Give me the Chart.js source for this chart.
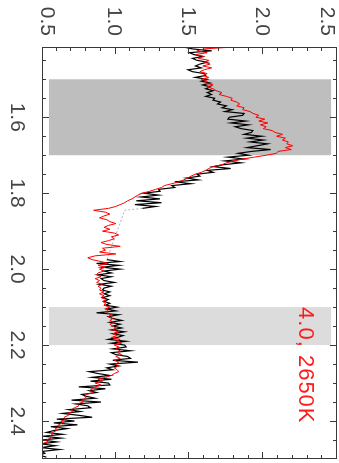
<!DOCTYPE html>
<html>
<head>
<meta charset="utf-8">
<script src="https://cdn.jsdelivr.net/npm/chart.js@4/dist/chart.umd.min.js"></script>
<style>
  html, body { margin: 0; padding: 0; background: #fff; overflow: hidden; }
  /* plot is laid out landscape and turned a quarter clockwise */
  #wrap { position: absolute; left: 0; top: 0; width: 463px; height: 339px;
          transform-origin: 0 0; transform: translate(339px, 0) rotate(90deg); }
</style>
</head>
<body>
<div id="wrap"><canvas id="spectrum" width="463" height="339"></canvas></div>
<script>
// wavelength grid (micron)
const wavelength = [
  1.415,1.420,1.425,1.430,1.435,1.440,1.445,1.450,1.455,1.460,
  1.465,1.470,1.475,1.480,1.485,1.490,1.495,1.500,1.505,1.510,
  1.515,1.520,1.525,1.530,1.535,1.540,1.545,1.550,1.555,1.560,
  1.565,1.570,1.575,1.580,1.585,1.590,1.595,1.600,1.605,1.610,
  1.615,1.620,1.625,1.630,1.635,1.640,1.645,1.650,1.655,1.660,
  1.665,1.670,1.675,1.680,1.685,1.690,1.695,1.700,1.705,1.710,
  1.715,1.720,1.725,1.730,1.735,1.740,1.745,1.750,1.755,1.760,
  1.765,1.770,1.775,1.780,1.785,1.790,1.795,1.800,1.805,1.810,
  1.815,1.820,1.825,1.830,1.835,1.840,1.845,1.850,1.855,1.860,
  1.865,1.870,1.875,1.880,1.885,1.890,1.895,1.900,1.905,1.910,
  1.915,1.920,1.925,1.930,1.935,1.940,1.945,1.950,1.955,1.960,
  1.965,1.970,1.975,1.980,1.985,1.990,1.995,2.000,2.005,2.010,
  2.015,2.020,2.025,2.030,2.035,2.040,2.045,2.050,2.055,2.060,
  2.065,2.070,2.075,2.080,2.085,2.090,2.095,2.100,2.105,2.110,
  2.115,2.120,2.125,2.130,2.135,2.140,2.145,2.150,2.155,2.160,
  2.165,2.170,2.175,2.180,2.185,2.190,2.195,2.200,2.205,2.210,
  2.215,2.220,2.225,2.230,2.235,2.240,2.245,2.250,2.255,2.260,
  2.265,2.270,2.275,2.280,2.285,2.290,2.295,2.300,2.305,2.310,
  2.315,2.320,2.325,2.330,2.335,2.340,2.345,2.350,2.355,2.360,
  2.365,2.370,2.375,2.380,2.385,2.390,2.395,2.400,2.405,2.410,
  2.415,2.420,2.425,2.430,2.435,2.440,2.445,2.450,2.455,2.460,
  2.465,2.470,2.475,2.480,2.485,2.490,2.495
];

// observed spectrum, blanked in the telluric gap
const observed = [
  1.46,1.52,1.65,1.50,1.53,1.59,1.52,1.55,1.62,1.57,
  1.54,1.58,1.49,1.52,1.60,1.61,1.54,1.62,1.58,1.64,
  1.59,1.64,1.61,1.66,1.62,1.65,1.61,1.67,1.66,1.71,
  1.69,1.75,1.72,1.79,1.74,1.87,1.86,1.77,1.76,1.88,
  1.78,1.90,1.81,1.85,1.93,1.92,1.87,1.99,1.89,2.00,
  1.91,2.03,1.96,1.89,2.05,1.92,1.83,1.90,1.76,1.87,
  1.74,1.85,1.73,1.66,1.78,1.62,1.66,1.55,1.57,1.48,
  1.56,1.40,1.51,1.38,1.40,1.29,1.30,1.19,1.29,1.17,
  1.30,1.14,1.31,1.13,1.27,1.18,null,null,null,null,
  null,null,null,null,null,null,null,null,null,null,
  null,null,null,null,null,null,null,null,null,null,
  null,null,0.94,1.03,0.87,1.02,0.91,1.03,0.92,0.97,
  0.88,0.97,0.90,0.92,0.99,0.89,0.97,0.92,0.91,0.96,
  0.92,0.96,0.91,0.95,0.92,0.96,0.93,1.01,0.94,1.00,
  0.87,1.02,0.95,0.98,1.04,0.96,1.03,0.98,1.04,0.97,
  1.06,0.98,1.05,1.01,0.95,1.07,0.97,1.06,1.07,0.98,
  1.10,0.97,1.00,1.08,1.10,0.98,1.15,0.96,1.02,0.94,
  0.98,0.82,0.88,0.96,0.84,0.97,0.83,0.95,0.96,0.75,
  0.93,0.82,0.87,0.77,0.80,0.86,0.70,0.90,0.73,0.81,
  0.83,0.68,0.76,0.64,0.75,0.84,0.60,0.72,0.58,0.74,
  0.56,0.67,0.58,0.53,0.64,0.51,0.63,0.50,0.60,0.49,
  0.59,0.49,0.62,0.50,0.52,0.48,0.53
];

// model spectrum
const model = [
  1.80,1.60,1.55,1.62,1.54,1.60,1.56,1.63,1.60,1.64,
  1.59,1.65,1.60,1.57,1.62,1.59,1.63,1.58,1.62,1.61,
  1.66,1.62,1.66,1.68,1.72,1.70,1.75,1.79,1.78,1.82,
  1.84,1.82,1.87,1.86,1.91,1.93,1.97,1.95,2.01,1.97,
  2.03,1.98,2.02,2.00,2.06,2.08,2.13,2.09,2.15,2.13,
  2.17,2.16,2.20,2.15,2.19,2.10,2.09,2.02,1.94,1.86,
  1.80,1.75,1.72,1.66,1.63,1.61,1.58,1.54,1.51,1.49,
  1.46,1.43,1.38,1.33,1.31,1.27,1.23,1.18,1.15,1.13,
  1.11,1.08,1.06,1.03,1.00,0.95,0.85,0.93,0.96,0.92,
  0.89,0.94,0.96,1.00,0.95,0.92,0.96,0.91,0.99,1.02,
  0.97,0.99,0.95,0.90,0.94,1.03,0.91,0.93,0.89,1.00,
  0.86,0.81,0.84,0.90,0.95,0.88,0.93,0.89,0.92,0.88,
  0.87,0.90,0.86,0.89,0.87,0.91,0.88,0.90,0.89,0.92,
  0.89,0.92,0.90,0.94,0.91,0.93,0.92,0.96,0.93,0.95,
  0.94,0.97,0.95,0.98,0.96,0.99,0.96,0.98,1.00,0.98,
  1.02,0.98,1.01,0.97,1.03,1.00,1.04,0.99,1.02,1.00,
  1.03,1.01,1.04,1.00,1.03,0.99,1.02,1.00,1.02,0.99,
  1.01,1.02,0.99,0.97,0.93,0.88,0.91,0.86,0.90,0.86,
  0.84,0.82,0.85,0.80,0.79,0.80,0.77,0.78,0.74,0.75,
  0.72,0.70,0.71,0.67,0.68,0.65,0.66,0.63,0.64,0.61,
  0.62,0.59,0.60,0.57,0.57,0.55,0.56,0.53,0.54,0.50,
  0.48,0.51,0.49,0.50,0.48,0.50,0.49
];

// dotted bridge across the gap
const gapWave = [1.840, 1.845, 1.975];
const gapFlux = [1.18, 1.06, 0.94];

// shaded regions: wavelength ranges and flux extent
const bandWave = [[1.50, 1.70], [2.10, 2.20]];
const bandFlux = [0.547, 2.46];

const waveTicks = [1.6, 1.8, 2.0, 2.2, 2.4];
const fluxTicks = [0.5, 1.0, 1.5, 2.0, 2.5];

const modelLabel = '4.0, 2650K';
const labelAt = [2.10, 2.24];

const bandColors = ['#bebebe', '#dcdcdc'];
const axisColor = '#3a3a3a';
const tickFont = '21px "Liberation Sans", Arial, sans-serif';

function pairs(xs, ys) {
  return xs.map((w, i) => ({ x: w, y: ys[i] }));
}

const frame = {
  id: 'frame',
  beforeDatasetsDraw(chart) {
    const { ctx, scales: { x, y } } = chart;
    ctx.save();
    bandWave.forEach((r, i) => {
      const x0 = x.getPixelForValue(r[0]);
      const x1 = x.getPixelForValue(r[1]);
      const y0 = y.getPixelForValue(bandFlux[1]);
      const y1 = y.getPixelForValue(bandFlux[0]);
      ctx.fillStyle = bandColors[i];
      ctx.fillRect(x0, y0, x1 - x0, y1 - y0);
    });
    ctx.restore();
  },
  afterDraw(chart) {
    const { ctx, chartArea: a, scales: { x, y } } = chart;
    ctx.save();
    ctx.strokeStyle = axisColor;
    ctx.lineWidth = 1;
    ctx.strokeRect(a.left + 0.5, a.top + 0.5, a.right - a.left - 1, a.bottom - a.top - 1);

    // inward ticks on all four sides
    ctx.beginPath();
    for (let i = 29; i <= 49; i++) {
      const px = Math.round(x.getPixelForValue(i * 0.05)) + 0.5;
      const len = i % 4 === 0 ? 7 : 4;
      ctx.moveTo(px, a.bottom); ctx.lineTo(px, a.bottom - len);
      ctx.moveTo(px, a.top); ctx.lineTo(px, a.top + len);
    }
    for (let i = 6; i <= 24; i++) {
      const py = Math.round(y.getPixelForValue(i * 0.1)) + 0.5;
      const len = i % 5 === 0 ? 7 : 4;
      ctx.moveTo(a.left, py); ctx.lineTo(a.left + len, py);
      ctx.moveTo(a.right, py); ctx.lineTo(a.right - len, py);
    }
    ctx.stroke();

    ctx.fillStyle = '#444';
    ctx.font = tickFont;
    ctx.textBaseline = 'alphabetic';
    ctx.textAlign = 'center';
    waveTicks.forEach(w => {
      ctx.fillText(w.toFixed(1), x.getPixelForValue(w), a.bottom + 31);
    });
    ctx.textAlign = 'right';
    fluxTicks.forEach(f => {
      let cy = y.getPixelForValue(f);
      cy = Math.min(Math.max(cy, a.top + 8), a.bottom - 6.5);
      ctx.fillText(f.toFixed(1), a.left - 11, cy + 7.5);
    });

    ctx.fillStyle = '#ff1a1a';
    ctx.font = '22px "Liberation Sans", Arial, sans-serif';
    ctx.letterSpacing = '1px';
    ctx.textAlign = 'left';
    ctx.fillText(modelLabel, x.getPixelForValue(labelAt[0]), y.getPixelForValue(labelAt[1]));
    ctx.restore();
  }
};

new Chart(document.getElementById('spectrum'), {
  type: 'line',
  data: {
    datasets: [
      { label: 'model', data: pairs(wavelength, model), borderColor: '#ff0000', borderWidth: 1, pointRadius: 0 },
      { label: 'observed', data: pairs(wavelength, observed), borderColor: '#000000', borderWidth: 1.2, pointRadius: 0, spanGaps: false },
      { label: 'gap', data: pairs(gapWave, gapFlux), borderColor: '#b4b4b4', borderWidth: 1, borderDash: [2, 2], pointRadius: 0 }
    ]
  },
  options: {
    responsive: false,
    animation: false,
    layout: { padding: { top: 2, right: 4, left: 0, bottom: 0 } },
    plugins: { legend: { display: false }, tooltip: { enabled: false } },
    scales: {
      x: {
        type: 'linear', min: 1.415, max: 2.5,
        ticks: { display: false }, grid: { display: false }, border: { display: false },
        afterFit(s) { s.height = 42; }
      },
      y: {
        type: 'linear', min: 0.5, max: 2.5,
        ticks: { display: false }, grid: { display: false }, border: { display: false },
        afterFit(s) { s.width = 47; }
      }
    }
  },
  plugins: [frame]
});
</script>
</body>
</html>
